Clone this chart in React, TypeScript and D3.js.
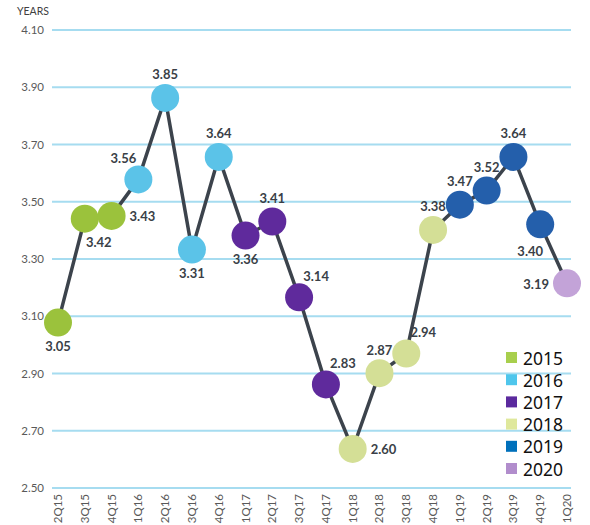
import React from 'react';
import * as d3 from 'd3';

const quarters = ['2Q15', '3Q15', '4Q15', '1Q16', '2Q16', '3Q16', '4Q16', '1Q17', '2Q17', '3Q17',
  '4Q17', '1Q18', '2Q18', '3Q18', '4Q18', '1Q19', '2Q19', '3Q19', '4Q19', '1Q20'];
const years = [3.05, 3.42, 3.43, 3.56, 3.85, 3.31, 3.64, 3.36, 3.41, 3.14,
  2.83, 2.60, 2.87, 2.94, 3.38, 3.47, 3.52, 3.64, 3.40, 3.19];
const seriesYear = ['2015', '2015', '2015', '2016', '2016', '2016', '2016', '2017', '2017', '2017',
  '2017', '2018', '2018', '2018', '2018', '2019', '2019', '2019', '2019', '2020'];
const legendYears = ['2015', '2016', '2017', '2018', '2019', '2020'];
const yTickLabels = ['2.50', '2.70', '2.90', '3.10', '3.30', '3.50', '3.70', '3.90', '4.10'];

// where each value label sits relative to its dot
const labelSide = ['below', 'belowRight', 'right', 'aboveLeft', 'above', 'below', 'above', 'below', 'above', 'aboveRight',
  'aboveRight', 'right', 'above', 'aboveRight', 'above', 'above', 'above', 'above', 'belowLeft', 'left'];

const dotColor = d3.scaleOrdinal<string, string>()
  .domain(legendYears)
  .range(['#9bc23c', '#5bc3e8', '#5f2a9c', '#d4df96', '#245fab', '#c3a3d8']);
const legendColor = d3.scaleOrdinal<string, string>()
  .domain(legendYears)
  .range(['#a8cf4d', '#4fc6ec', '#5b2a9e', '#dfe89c', '#0070bb', '#b18dcc']);

const offsets: Record<string, [number, number, string]> = {
  above: [0, -23, 'middle'],
  below: [0, 24, 'middle'],
  left: [-18, 1, 'end'],
  right: [18, 1, 'start'],
  aboveRight: [17, -21, 'middle'],
  aboveLeft: [-15, -21, 'middle'],
  belowRight: [14, 24, 'middle'],
  belowLeft: [-10, 27, 'middle'],
};

const W = 590;
const H = 525;
const top = 30;
const bottom = 488;

export default function App() {
  const x = d3.scalePoint<string>().domain(quarters).range([58, 567]);
  // the value axis of the source is offset from its printed grid labels
  const y = d3.scaleLinear().domain([2.461, 4.092]).range([bottom, top]);
  const grid = d3.scalePoint<string>().domain(yTickLabels).range([bottom, top]);

  const line = d3.line<number>()
    .x((_, i) => x(quarters[i]) as number)
    .y((d) => y(d));

  const font = 'Lato, "Open Sans", sans-serif';

  return (
    <svg width={W} height={H} style={{ position: 'absolute', left: 0, top: 0 }}>
      <rect width={W} height={H} fill="#fff" />
      <text x={17} y={15} fontSize={10.5} fontFamily={font} fill="#404040">YEARS</text>
      {yTickLabels.map((t) => (
        <g key={t}>
          <line x1={52} x2={571} y1={grid(t)} y2={grid(t)} stroke="#a6dcf0" strokeWidth={2} />
          <text x={44} y={(grid(t) as number) + 4} textAnchor="end" fontSize={11.5} fontFamily={font} fill="#595959">{t}</text>
        </g>
      ))}
      {quarters.map((q) => (
        <text key={q} transform={`translate(${(x(q) as number) + 4},${494}) rotate(-90)`} textAnchor="end"
          fontSize={11.5} fontFamily={font} fill="#595959">{q}</text>
      ))}
      <path d={line(years) || ''} fill="none" stroke="#3c434c" strokeWidth={3.5} strokeLinejoin="round" />
      {years.map((v, i) => (
        <circle key={i} cx={x(quarters[i])} cy={y(v)} r={14} fill={dotColor(seriesYear[i])} />
      ))}
      {years.map((v, i) => {
        const [dx, dy, anchor] = offsets[labelSide[i]];
        return (
          <text key={i} x={(x(quarters[i]) as number) + dx} y={y(v) + dy + 4.5} textAnchor={anchor}
            fontSize={13} fontWeight={700} fontFamily={font} fill="#3a3f47">{v.toFixed(2)}</text>
        );
      })}
      {legendYears.map((yr, i) => (
        <g key={yr} transform={`translate(506,${358 + i * 22.2})`}>
          <rect x={0} y={-6} width={11} height={11} fill={legendColor(yr)} />
          <text x={17} y={6.5} fontSize={17.5} fontFamily='"Noto Sans", sans-serif' fill="#111">{yr}</text>
        </g>
      ))}
    </svg>
  );
}
